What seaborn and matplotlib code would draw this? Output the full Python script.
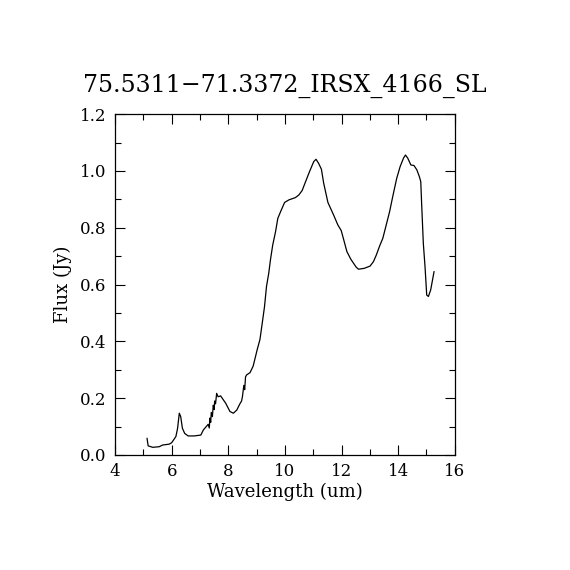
import numpy as np
import pandas as pd
import matplotlib
matplotlib.use('Agg')
import matplotlib.pyplot as plt
import seaborn as sns
from matplotlib.ticker import MultipleLocator

# spectrum
wavelength = [5.13, 5.17, 5.33, 5.56, 5.68, 5.91, 6.00, 6.15, 6.21, 6.27, 6.32, 6.38, 6.46, 6.58,
              6.79, 7.03, 7.12, 7.29, 7.33, 7.35, 7.38, 7.40, 7.44, 7.47, 7.50, 7.52, 7.55, 7.59,
              7.64, 7.73, 7.91, 8.06, 8.18, 8.30, 8.41, 8.47, 8.50, 8.55, 8.58, 8.61, 8.65,
              8.77, 8.88, 9.02, 9.12, 9.20, 9.28, 9.35, 9.43, 9.49, 9.57, 9.67, 9.75, 9.85, 9.99,
              10.14, 10.37, 10.49, 10.61, 10.73, 10.88, 11.02, 11.10, 11.19, 11.29, 11.37, 11.52,
              11.72, 11.87, 11.99, 12.08, 12.19, 12.33, 12.52, 12.60, 12.80, 13.01, 13.13, 13.23,
              13.34, 13.46, 13.58, 13.70, 13.81, 13.95, 14.07, 14.19, 14.26, 14.34, 14.45, 14.56,
              14.66, 14.75, 14.80, 14.83, 14.89, 14.95, 15.01, 15.07, 15.15, 15.27]
flux = [0.059, 0.032, 0.027, 0.029, 0.035, 0.038, 0.043, 0.065, 0.094, 0.147, 0.135, 0.094, 0.076, 0.067,
        0.067, 0.070, 0.088, 0.108, 0.095, 0.130, 0.115, 0.150, 0.135, 0.175, 0.160, 0.190, 0.180, 0.217,
        0.205, 0.208, 0.182, 0.153, 0.147, 0.158, 0.180, 0.190, 0.205, 0.245, 0.230, 0.275, 0.282,
        0.290, 0.313, 0.370, 0.407, 0.464, 0.522, 0.593, 0.640, 0.687, 0.739, 0.786, 0.833, 0.857, 0.889,
        0.898, 0.906, 0.915, 0.931, 0.962, 1.000, 1.033, 1.041, 1.027, 1.006, 0.957, 0.889,
        0.845, 0.810, 0.790, 0.757, 0.716, 0.689, 0.661, 0.654, 0.657, 0.665, 0.681, 0.704,
        0.734, 0.763, 0.810, 0.857, 0.910, 0.974, 1.015, 1.045, 1.056, 1.045, 1.021, 1.019,
        1.004, 0.980, 0.962, 0.886, 0.745, 0.663, 0.563, 0.558, 0.581, 0.646]

title = '75.5311\u221271.3372_IRSX_4166_SL'

sns.set_style('ticks')
plt.rcParams['font.family'] = ['DejaVu Serif']
plt.rcParams['xtick.direction'] = 'in'
plt.rcParams['ytick.direction'] = 'in'
plt.rcParams['text.color'] = 'black'
plt.rcParams['axes.labelcolor'] = 'black'
plt.rcParams['xtick.color'] = 'black'
plt.rcParams['ytick.color'] = 'black'
plt.rcParams['axes.edgecolor'] = 'black'

df = pd.DataFrame({'Wavelength': wavelength, 'Flux': flux})

fig = plt.figure(figsize=(5.7, 5.7), dpi=100)
ax = fig.add_axes([0.2018, 0.2018, 0.596, 0.598])
sns.lineplot(data=df, x='Wavelength', y='Flux', color='black', linewidth=0.9, sort=False, ax=ax)

ax.set_xlim(4, 16)
ax.set_ylim(0, 1.2)
ax.xaxis.set_major_locator(MultipleLocator(2))
ax.xaxis.set_minor_locator(MultipleLocator(1))
ax.yaxis.set_major_locator(MultipleLocator(0.2))
ax.yaxis.set_minor_locator(MultipleLocator(0.1))
ax.yaxis.set_major_formatter(matplotlib.ticker.FormatStrFormatter('%.1f'))
ax.tick_params(which='both', top=True, right=True, labelsize=12, width=0.8, pad=6)
ax.tick_params(which='major', length=7)
ax.tick_params(which='minor', length=4)
for s in ax.spines.values():
    s.set_linewidth(0.9)

ax.set_xlabel('Wavelength (um)', fontsize=13, labelpad=2)
ax.set_ylabel('Flux (Jy)', fontsize=13, labelpad=6)
ax.set_title(title, fontsize=17, pad=16)

fig.savefig('out.png', dpi=100)
